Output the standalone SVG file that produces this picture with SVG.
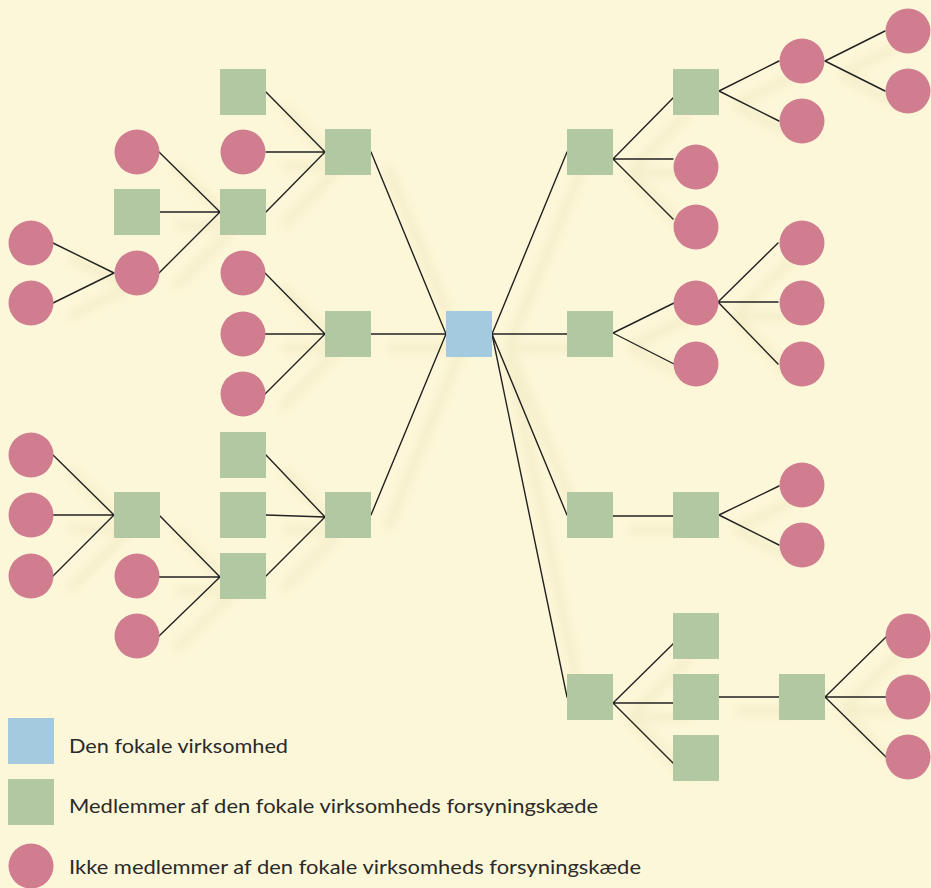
<svg xmlns="http://www.w3.org/2000/svg" xmlns:xlink="http://www.w3.org/1999/xlink" width="931" height="888" viewBox="0 0 931 888">
<defs>
<style>
.bg{fill:#fdf7d9}
.m{fill:#b1c8a3}
.n{fill:#d07d90}
.f{fill:#a3cadf}
.lbl{font-family:"Lato","Liberation Sans",sans-serif;font-size:20px;fill:#2a2a2a}
</style>
<filter id="blur" x="-20%" y="-20%" width="140%" height="140%"><feGaussianBlur stdDeviation="5"/></filter>
<rect id="sq" x="-23" y="-23" width="46" height="46"/>
<circle id="ci" r="22.5"/>
</defs>
<rect class="bg" width="931" height="888"/>
<g id="shadows" fill="none" stroke="#c9bc78" stroke-width="9" opacity="0.15" filter="url(#blur)">
<use xlink:href="#conn-lines" transform="translate(16,14)"/>
</g>
<g id="connectors" fill="none" stroke="#222" stroke-width="1.4" stroke-linecap="round">
<g id="conn-lines">
<path d="M446,334L371,152M446,334L371,334M446,334L371,515"/>
<path d="M325,152L266,92M325,152L266,152M325,152L266,212"/>
<path d="M325,334L265,273M325,334L265,334M325,334L265,394"/>
<path d="M325,517L266,455M325,517L266,515M325,517L266,576"/>
<path d="M220,212L159,152M220,212L159,212M220,212L159,273"/>
<path d="M114,273L53,243M114,273L53,303"/>
<path d="M220,577L160,516M220,577L159,577M220,577L159,636"/>
<path d="M114,515L53,455M114,515L53,515M114,515L53,576"/>
<path d="M492,334L567,152M492,334L567,334M492,334L567,515M492,334L567,697"/>
<path d="M613,159L673,98M613,159L673,159M613,159L673,219"/>
<path d="M719,91L779,61M719,91L779,121"/>
<path d="M825,61L885,31M825,61L885,91"/>
<path d="M613,333L674,303M613,333L674,364"/>
<path d="M718,302L778,243M718,302L778,302M718,302L778,364"/>
<path d="M613,516L673,516M719,515L779,486M719,515L779,545"/>
<path d="M613,703L674,643M613,703L674,703M613,703L674,764"/>
<path d="M719,697L779,697M825,697L886,637M825,697L886,697M825,697L886,757"/>
</g>
</g>
<g id="focal"><use xlink:href="#sq" class="f" x="469" y="334"/></g>
<g id="left-members" class="m">
<g id="L3a"><use xlink:href="#sq" x="348" y="152"/></g>
<g id="L3b"><use xlink:href="#sq" x="348" y="334"/></g>
<g id="L3c"><use xlink:href="#sq" x="348" y="515"/></g>
<g id="L2a"><use xlink:href="#sq" x="243" y="92"/></g>
<g id="L2b"><use xlink:href="#sq" x="243" y="212"/></g>
<g id="L2c"><use xlink:href="#sq" x="243" y="455"/></g>
<g id="L2d"><use xlink:href="#sq" x="243" y="515"/></g>
<g id="L2e"><use xlink:href="#sq" x="243" y="576"/></g>
<g id="L1a"><use xlink:href="#sq" x="137" y="212"/></g>
<g id="L1b"><use xlink:href="#sq" x="137" y="515"/></g>
</g>
<g id="left-nonmembers" class="n">
<g id="Ln1"><use xlink:href="#ci" x="243" y="152"/></g>
<g id="Ln2"><use xlink:href="#ci" x="243" y="273"/></g>
<g id="Ln3"><use xlink:href="#ci" x="243" y="334"/></g>
<g id="Ln4"><use xlink:href="#ci" x="243" y="394"/></g>
<g id="Ln5"><use xlink:href="#ci" x="137" y="152"/></g>
<g id="Ln6"><use xlink:href="#ci" x="137" y="273"/></g>
<g id="Ln7"><use xlink:href="#ci" x="31" y="243"/></g>
<g id="Ln8"><use xlink:href="#ci" x="31" y="303"/></g>
<g id="Ln9"><use xlink:href="#ci" x="31" y="455"/></g>
<g id="Ln10"><use xlink:href="#ci" x="31" y="515"/></g>
<g id="Ln11"><use xlink:href="#ci" x="31" y="576"/></g>
<g id="Ln12"><use xlink:href="#ci" x="137" y="576"/></g>
<g id="Ln13"><use xlink:href="#ci" x="137" y="636"/></g>
</g>
<g id="right-members" class="m">
<g id="R5a"><use xlink:href="#sq" x="590" y="152"/></g>
<g id="R5b"><use xlink:href="#sq" x="590" y="334"/></g>
<g id="R5c"><use xlink:href="#sq" x="590" y="515"/></g>
<g id="R5d"><use xlink:href="#sq" x="590" y="697"/></g>
<g id="R6a"><use xlink:href="#sq" x="696" y="92"/></g>
<g id="R6b"><use xlink:href="#sq" x="696" y="515"/></g>
<g id="R6c"><use xlink:href="#sq" x="696" y="636"/></g>
<g id="R6d"><use xlink:href="#sq" x="696" y="697"/></g>
<g id="R6e"><use xlink:href="#sq" x="696" y="758"/></g>
<g id="R7a"><use xlink:href="#sq" x="802" y="697"/></g>
</g>
<g id="right-nonmembers" class="n">
<g id="Rn1"><use xlink:href="#ci" x="696" y="167"/></g>
<g id="Rn2"><use xlink:href="#ci" x="696" y="227"/></g>
<g id="Rn3"><use xlink:href="#ci" x="802" y="61"/></g>
<g id="Rn4"><use xlink:href="#ci" x="802" y="121"/></g>
<g id="Rn5"><use xlink:href="#ci" x="908" y="31"/></g>
<g id="Rn6"><use xlink:href="#ci" x="908" y="91"/></g>
<g id="Rn7"><use xlink:href="#ci" x="696" y="303"/></g>
<g id="Rn8"><use xlink:href="#ci" x="696" y="364"/></g>
<g id="Rn9"><use xlink:href="#ci" x="802" y="243"/></g>
<g id="Rn10"><use xlink:href="#ci" x="802" y="303"/></g>
<g id="Rn11"><use xlink:href="#ci" x="802" y="364"/></g>
<g id="Rn12"><use xlink:href="#ci" x="802" y="485"/></g>
<g id="Rn13"><use xlink:href="#ci" x="802" y="545"/></g>
<g id="Rn14"><use xlink:href="#ci" x="908" y="636"/></g>
<g id="Rn15"><use xlink:href="#ci" x="908" y="697"/></g>
<g id="Rn16"><use xlink:href="#ci" x="908" y="757"/></g>
</g>
<g id="legend">
<g id="leg-focal"><use xlink:href="#sq" class="f" x="31" y="741"/><text class="lbl" x="69" y="753" textLength="219" lengthAdjust="spacingAndGlyphs">Den fokale virksomhed</text></g>
<g id="leg-member"><use xlink:href="#sq" class="m" x="31" y="802"/><text class="lbl" x="69" y="813" textLength="529" lengthAdjust="spacingAndGlyphs">Medlemmer af den fokale virksomheds forsyningskæde</text></g>
<g id="leg-nonmember"><use xlink:href="#ci" class="n" x="31" y="866"/><text class="lbl" x="69" y="874" textLength="572" lengthAdjust="spacingAndGlyphs">Ikke medlemmer af den fokale virksomheds forsyningskæde</text></g>
</g>
</svg>
